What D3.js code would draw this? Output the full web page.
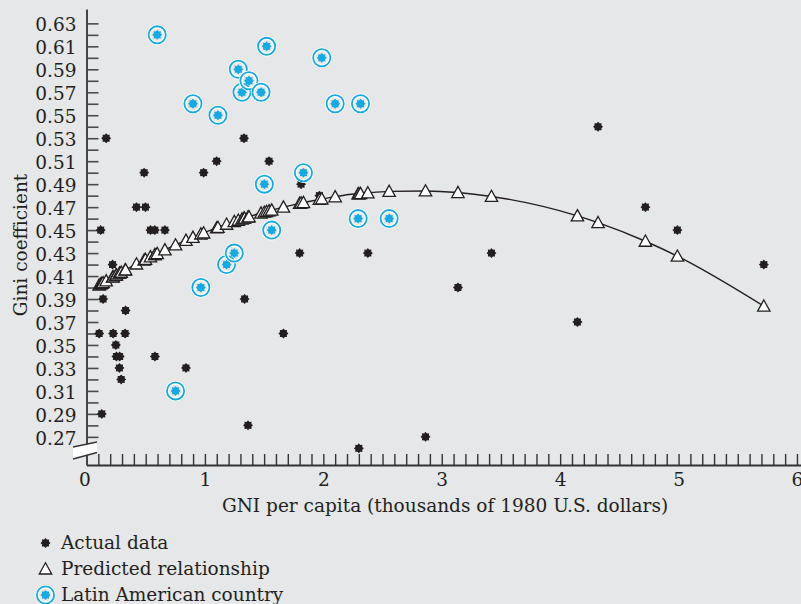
<!DOCTYPE html>
<html>
<head>
<meta charset="utf-8">
<script src="https://cdn.jsdelivr.net/npm/d3@7/dist/d3.min.js"></script>
<style>
  html, body { margin: 0; padding: 0; background: #e6e7e8; }
  svg { display: block; }
  text { font-family: "DejaVu Serif", serif; fill: #231f20; }
</style>
</head>
<body>
<svg id="chart" width="801" height="604"></svg>
<script>
// GNI per capita (thousands of 1980 U.S. dollars) and Gini coefficient, non-Latin countries
const actualGni = [0.107, 0.12, 0.129, 0.14, 0.166, 0.22, 0.225, 0.248, 0.253, 0.278, 0.28, 0.293, 0.326, 0.33,
  0.422, 0.487, 0.498, 0.54, 0.577, 0.578, 0.662, 0.84, 0.989, 1.099, 1.33, 1.335, 1.364, 1.542, 1.663,
  1.80, 1.812, 1.967, 2.30, 2.376, 2.863, 3.137, 3.42, 4.146, 4.32, 4.72, 4.99, 5.72];
const actualGini = [0.36, 0.45, 0.29, 0.39, 0.53, 0.42, 0.36, 0.35, 0.34, 0.33, 0.34, 0.32, 0.36, 0.38,
  0.47, 0.50, 0.47, 0.45, 0.45, 0.34, 0.45, 0.33, 0.50, 0.51, 0.53, 0.39, 0.28, 0.51, 0.36,
  0.43, 0.49, 0.48, 0.26, 0.43, 0.27, 0.40, 0.43, 0.37, 0.54, 0.47, 0.45, 0.42];

// Latin American countries
const latinGni = [0.597, 0.752, 0.899, 0.966, 1.11, 1.183, 1.248, 1.282, 1.313, 1.372,
  1.474, 1.502, 1.521, 1.564, 1.832, 1.987, 2.10, 2.294, 2.314, 2.556];
const latinGini = [0.62, 0.31, 0.56, 0.40, 0.55, 0.42, 0.43, 0.59, 0.57, 0.58,
  0.57, 0.49, 0.61, 0.45, 0.50, 0.60, 0.56, 0.46, 0.56, 0.46];

// Predicted relationship (one triangle per country)
const predictedGni = [0.107, 0.12, 0.129, 0.14, 0.166, 0.22, 0.225, 0.248, 0.253, 0.278, 0.28, 0.293, 0.326, 0.33,
  0.422, 0.487, 0.498, 0.54, 0.577, 0.578, 0.597, 0.662, 0.752, 0.84, 0.899, 0.966, 0.989,
  1.099, 1.11, 1.183, 1.248, 1.282, 1.313, 1.33, 1.335, 1.364, 1.372, 1.474, 1.502, 1.521, 1.542, 1.564,
  1.663, 1.80, 1.812, 1.832, 1.967, 1.987, 2.10, 2.294, 2.30, 2.314, 2.376, 2.556, 2.863, 3.137, 3.42,
  4.146, 4.32, 4.72, 4.99, 5.72];
const predictedGini = [0.4022, 0.4030, 0.4036, 0.4042, 0.4058, 0.4090, 0.4093, 0.4107, 0.4110, 0.4124, 0.4125, 0.4133, 0.4152, 0.4154,
  0.4205, 0.4239, 0.4245, 0.4267, 0.4286, 0.4286, 0.4296, 0.4328, 0.4371, 0.4411, 0.4437, 0.4466, 0.4475,
  0.4519, 0.4523, 0.4551, 0.4574, 0.4586, 0.4596, 0.4602, 0.4604, 0.4613, 0.4616, 0.4648, 0.4656, 0.4662, 0.4668, 0.4674,
  0.4700, 0.4733, 0.4736, 0.4740, 0.4767, 0.4771, 0.4790, 0.4816, 0.4816, 0.4818, 0.4824, 0.4837, 0.4841, 0.4827, 0.4793,
  0.4624, 0.4565, 0.4403, 0.4273, 0.3838];

const xTickLabels = [0, 1, 2, 3, 4, 5, 6];
const yTickLabels = [0.27, 0.29, 0.31, 0.33, 0.35, 0.37, 0.39, 0.41, 0.43, 0.45, 0.47,
  0.49, 0.51, 0.53, 0.55, 0.57, 0.59, 0.61, 0.63];
const xTitle = "GNI per capita (thousands of 1980 U.S. dollars)";
const yTitle = "Gini coefficient";
const legendLabels = ["Actual data", "Predicted relationship", "Latin American country"];

const INK = "#231f20";
const BLUE = "#17a9e1";
const FONT = "18.5px";

const svg = d3.select("#chart");

const x = d3.scaleLinear().domain([0, 6.034]).range([86.5, 801]);
const y = d3.scaleLinear().domain([0.2455, 0.6425]).range([465, 9]);

// minor ticks every 0.01 (y) and 0.1 (x)
const yMinor = d3.range(27, 64).map(v => v / 100);
const xMinor = d3.range(1, 61).map(v => v / 10);
const yLabelSet = new Set(yTickLabels.map(v => v.toFixed(2)));
const xLabelSet = new Set(xTickLabels.map(v => v.toFixed(1)));

// y axis
const gy = svg.append("g")
  .attr("transform", `translate(${x(0)},0)`)
  .call(d3.axisLeft(y).tickValues(yMinor).tickSize(-12).tickSizeOuter(0).tickPadding(10)
    .tickFormat(d => yLabelSet.has(d.toFixed(2)) ? d.toFixed(2) : ""));
gy.attr("font-family", null).attr("font-size", null).attr("color", "#333");
gy.select(".domain").attr("stroke-width", 1.8);
gy.selectAll(".tick line").attr("stroke-width", 1.6).attr("stroke", "#4a4a4a");
gy.selectAll(".tick text").style("font-size", FONT).attr("dy", "0.4em");

// x axis
const gx = svg.append("g")
  .attr("transform", `translate(0,${y.range()[0]})`)
  .call(d3.axisBottom(x).tickValues([0].concat(xMinor)).tickSize(-11).tickSizeOuter(0).tickPadding(8)
    .tickFormat(d => xLabelSet.has(d.toFixed(1)) ? d3.format("d")(d) : ""));
gx.attr("font-family", null).attr("font-size", null).attr("color", "#333");
gx.select(".domain").attr("stroke-width", 1.8);
gx.selectAll(".tick line").attr("stroke-width", 1.4).attr("stroke", "#333")
  .filter(d => d === 0).remove();
gx.selectAll(".tick text").style("font-size", FONT)
  .filter(d => d === 0).attr("dx", "-2");

// axis break on the y axis
const bx0 = x(0) - 13.5, bx1 = x(0) + 10.5;
const breakG = svg.append("g");
breakG.append("path")
  .attr("d", `M${bx0},447 L${bx1},442 L${bx1},452.5 L${bx0},459 Z`)
  .attr("fill", "#ffffff");
breakG.append("path")
  .attr("d", `M${bx0},447 L${bx1},442 M${bx0},459 L${bx1},452.5`)
  .attr("stroke", "#333").attr("stroke-width", 1.3).attr("fill", "none");

// marker shapes
function starPath(ro, ri) {
  const pts = [];
  for (let i = 0; i < 16; i++) {
    const a = i * Math.PI / 8 - Math.PI / 2;
    const r = i % 2 ? ri : ro;
    pts.push([r * Math.cos(a), r * Math.sin(a)]);
  }
  return "M" + pts.map(p => p[0].toFixed(2) + "," + p[1].toFixed(2)).join("L") + "Z";
}
const STAR = starPath(5.0, 3.7);
const TRI = "M0,-6.2L6.2,5L-6.2,5Z";

function drawActual(g, cx, cy) {
  g.append("path").attr("d", STAR).attr("transform", `translate(${cx},${cy})`).attr("fill", INK);
}
function drawLatin(g, cx, cy) {
  const m = g.append("g").attr("transform", `translate(${cx},${cy})`);
  m.append("circle").attr("r", 8.3).attr("fill", "none").attr("stroke", "#ffffff").attr("stroke-width", 4);
  m.append("circle").attr("r", 8.6).attr("fill", "none").attr("stroke", BLUE).attr("stroke-width", 1.8);
  m.append("path").attr("d", STAR).attr("fill", BLUE);
}
function drawTriangle(g, cx, cy) {
  g.append("path").attr("d", TRI).attr("transform", `translate(${cx},${cy})`)
    .attr("fill", "#ffffff").attr("stroke", INK).attr("stroke-width", 1.3).attr("stroke-linejoin", "miter");
}

// actual data
const gA = svg.append("g");
actualGni.forEach((g, i) => drawActual(gA, x(g), y(actualGini[i])));

// predicted relationship line + triangles
const predicted = predictedGni.map((g, i) => [g, predictedGini[i]]);
svg.append("path")
  .datum(predicted)
  .attr("d", d3.line().x(d => x(d[0])).y(d => y(d[1])).curve(d3.curveMonotoneX))
  .attr("fill", "none").attr("stroke", INK).attr("stroke-width", 1.4);

// Latin American countries
const gL = svg.append("g");
latinGni.forEach((g, i) => drawLatin(gL, x(g), y(latinGini[i])));

const gP = svg.append("g");
predicted.forEach(d => drawTriangle(gP, x(d[0]), y(d[1])));

// axis titles
svg.append("text")
  .attr("x", 445).attr("y", 511.5)
  .attr("text-anchor", "middle").style("font-size", FONT)
  .text(xTitle);
svg.append("text")
  .attr("transform", "translate(27,245) rotate(-90)")
  .attr("text-anchor", "middle").style("font-size", FONT)
  .text(yTitle);

// legend
const legend = svg.append("g");
const rowY = [543, 569, 595];
drawActual(legend, 45.5, rowY[0]);
drawTriangle(legend, 45.5, rowY[1]);
drawLatin(legend, 45.5, rowY[2]);
legendLabels.forEach((t, i) => {
  legend.append("text").attr("x", 61).attr("y", rowY[i] + 6.3)
    .style("font-size", FONT).text(t);
});
</script>
</body>
</html>
